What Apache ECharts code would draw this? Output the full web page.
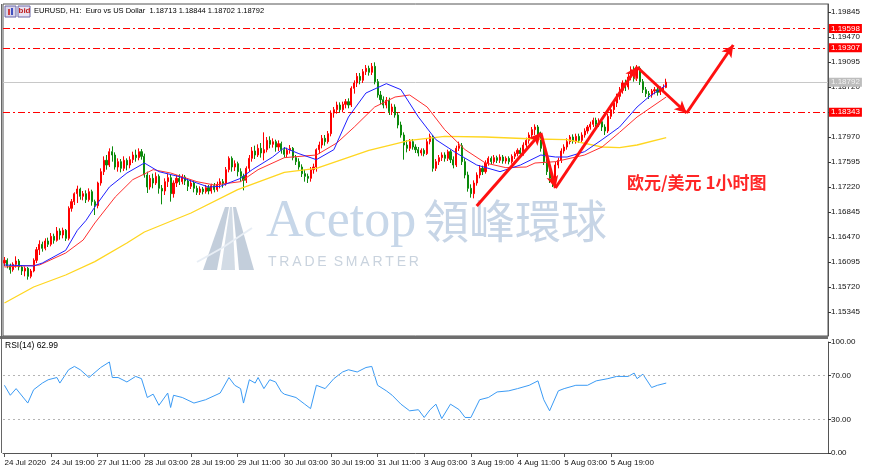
<!DOCTYPE html>
<html><head><meta charset="utf-8">
<script src="https://cdn.jsdelivr.net/npm/echarts@6/dist/echarts.min.js"></script>
<style>html,body{margin:0;padding:0;background:#fff}#c{width:870px;height:473px}</style>
</head><body><div id="c"></div>
<script>
// ---- data ----
const candles = [
[1.1608,1.1612,1.1603,1.1617],[1.1612,1.1604,1.1600,1.1615],[1.1604,1.1598,1.1592,1.1607],[1.1598,1.1606,1.1595,1.1609],
[1.1606,1.1611,1.1601,1.1618],[1.1611,1.1602,1.1597,1.1614],[1.1602,1.1596,1.1590,1.1605],[1.1596,1.1600,1.1588,1.1603],
[1.1600,1.1588,1.1583,1.1602],[1.1588,1.1596,1.1585,1.1599],[1.1596,1.1612,1.1594,1.1615],[1.1612,1.1628,1.1608,1.1632],
[1.1628,1.1636,1.1620,1.1642],[1.1636,1.1630,1.1625,1.1640],[1.1630,1.1641,1.1627,1.1645],[1.1641,1.1636,1.1632,1.1646],
[1.1636,1.1648,1.1633,1.1653],[1.1648,1.1642,1.1637,1.1652],[1.1642,1.1656,1.1640,1.1662],[1.1656,1.1650,1.1643,1.1660],
[1.1650,1.1657,1.1645,1.1661],[1.1657,1.1645,1.1641,1.1659],[1.1645,1.1690,1.1642,1.1693],[1.1690,1.1700,1.1685,1.1704],
[1.1700,1.1712,1.1695,1.1714],[1.1712,1.1719,1.1698,1.1724],[1.1719,1.1708,1.1703,1.1721],[1.1708,1.1712,1.1702,1.1716],
[1.1712,1.1703,1.1698,1.1717],[1.1703,1.1715,1.1700,1.1720],[1.1715,1.1700,1.1694,1.1718],[1.1700,1.1694,1.1680,1.1703],
[1.1694,1.1728,1.1690,1.1730],[1.1728,1.1745,1.1724,1.1750],[1.1745,1.1762,1.1740,1.1768],[1.1762,1.1755,1.1748,1.1770],
[1.1755,1.1775,1.1752,1.1780],[1.1775,1.1770,1.1760,1.1783],[1.1770,1.1752,1.1748,1.1774],[1.1752,1.1760,1.1745,1.1765],
[1.1760,1.1750,1.1744,1.1764],[1.1750,1.1762,1.1746,1.1768],[1.1762,1.1755,1.1747,1.1765],[1.1755,1.1763,1.1750,1.1768],
[1.1763,1.1770,1.1758,1.1775],[1.1770,1.1766,1.1760,1.1778],[1.1766,1.1775,1.1762,1.1780],[1.1775,1.1768,1.1763,1.1779],
[1.1768,1.1740,1.1736,1.1772],[1.1740,1.1722,1.1713,1.1745],[1.1722,1.1735,1.1718,1.1740],[1.1735,1.1728,1.1720,1.1742],
[1.1728,1.1738,1.1725,1.1744],[1.1738,1.1720,1.1712,1.1741],[1.1720,1.1716,1.1696,1.1725],[1.1716,1.1730,1.1710,1.1735],
[1.1730,1.1736,1.1722,1.1742],[1.1736,1.1712,1.1700,1.1740],[1.1712,1.1728,1.1706,1.1732],[1.1728,1.1735,1.1722,1.1740],
[1.1735,1.1730,1.1725,1.1741],[1.1730,1.1737,1.1726,1.1741],[1.1737,1.1731,1.1725,1.1740],[1.1731,1.1723,1.1716,1.1735],
[1.1723,1.1728,1.1719,1.1733],[1.1728,1.1720,1.1714,1.1731],[1.1720,1.1714,1.1710,1.1724],[1.1714,1.1719,1.1710,1.1723],
[1.1719,1.1715,1.1711,1.1722],[1.1715,1.1721,1.1712,1.1725],[1.1721,1.1716,1.1711,1.1725],[1.1716,1.1724,1.1712,1.1727],
[1.1724,1.1718,1.1714,1.1728],[1.1718,1.1726,1.1715,1.1730],[1.1726,1.1730,1.1720,1.1735],[1.1730,1.1727,1.1721,1.1734],
[1.1727,1.1748,1.1724,1.1752],[1.1748,1.1765,1.1744,1.1768],[1.1765,1.1752,1.1745,1.1768],[1.1752,1.1757,1.1746,1.1762],
[1.1757,1.1745,1.1738,1.1760],[1.1745,1.1738,1.1730,1.1750],[1.1738,1.1732,1.1717,1.1742],[1.1732,1.1750,1.1728,1.1753],
[1.1750,1.1765,1.1745,1.1770],[1.1765,1.1776,1.1760,1.1782],[1.1776,1.1770,1.1764,1.1784],[1.1770,1.1780,1.1767,1.1786],
[1.1780,1.1773,1.1766,1.1788],[1.1773,1.1778,1.1762,1.1804],[1.1778,1.1792,1.1774,1.1797],[1.1792,1.1786,1.1780,1.1798],
[1.1786,1.1790,1.1781,1.1795],[1.1790,1.1782,1.1775,1.1793],[1.1782,1.1787,1.1776,1.1792],[1.1787,1.1778,1.1772,1.1790],
[1.1778,1.1771,1.1766,1.1782],[1.1771,1.1777,1.1767,1.1781],[1.1777,1.1780,1.1772,1.1785],[1.1780,1.1766,1.1762,1.1782],
[1.1766,1.1760,1.1755,1.1770],[1.1760,1.1752,1.1748,1.1765],[1.1752,1.1742,1.1737,1.1756],[1.1742,1.1738,1.1730,1.1748],
[1.1738,1.1735,1.1728,1.1742],[1.1735,1.1748,1.1730,1.1752],[1.1748,1.1752,1.1742,1.1757],[1.1752,1.1778,1.1745,1.1780],
[1.1778,1.1785,1.1772,1.1790],[1.1785,1.1795,1.1780,1.1800],[1.1795,1.1790,1.1784,1.1800],[1.1790,1.1802,1.1787,1.1806],
[1.1802,1.1833,1.1798,1.1837],[1.1833,1.1838,1.1826,1.1842],[1.1838,1.1845,1.1832,1.1850],[1.1845,1.1838,1.1834,1.1849],
[1.1838,1.1846,1.1834,1.1850],[1.1846,1.1850,1.1840,1.1854],[1.1850,1.1845,1.1840,1.1855],[1.1845,1.1870,1.1842,1.1873],
[1.1870,1.1878,1.1862,1.1882],[1.1878,1.1888,1.1872,1.1893],[1.1888,1.1882,1.1876,1.1893],[1.1882,1.1895,1.1878,1.1899],
[1.1895,1.1900,1.1890,1.1905],[1.1900,1.1894,1.1889,1.1904],[1.1894,1.1903,1.1890,1.1908],[1.1903,1.1880,1.1876,1.1909],
[1.1880,1.1860,1.1856,1.1884],[1.1860,1.1853,1.1846,1.1866],[1.1853,1.1845,1.1840,1.1858],[1.1845,1.1852,1.1840,1.1857],
[1.1852,1.1835,1.1830,1.1856],[1.1835,1.1842,1.1830,1.1847],[1.1842,1.1830,1.1826,1.1846],[1.1830,1.1815,1.1810,1.1834],
[1.1815,1.1800,1.1796,1.1820],[1.1800,1.1785,1.1763,1.1804],[1.1785,1.1780,1.1774,1.1792],[1.1780,1.1790,1.1776,1.1794],
[1.1790,1.1782,1.1778,1.1794],[1.1782,1.1778,1.1773,1.1786],[1.1778,1.1773,1.1768,1.1782],[1.1773,1.1777,1.1769,1.1780],
[1.1777,1.1772,1.1768,1.1780],[1.1772,1.1790,1.1770,1.1794],[1.1790,1.1798,1.1786,1.1802],[1.1798,1.1750,1.1745,1.1800],
[1.1750,1.1760,1.1746,1.1764],[1.1760,1.1766,1.1755,1.1770],[1.1766,1.1770,1.1761,1.1774],[1.1770,1.1765,1.1760,1.1774],
[1.1765,1.1775,1.1761,1.1778],[1.1775,1.1763,1.1758,1.1778],[1.1763,1.1755,1.1750,1.1768],[1.1755,1.1780,1.1752,1.1784],
[1.1780,1.1784,1.1776,1.1790],[1.1784,1.1760,1.1755,1.1788],[1.1760,1.1740,1.1735,1.1765],[1.1740,1.1720,1.1715,1.1745],
[1.1720,1.1712,1.1706,1.1726],[1.1712,1.1728,1.1705,1.1732],[1.1728,1.1740,1.1724,1.1744],[1.1740,1.1750,1.1735,1.1755],
[1.1750,1.1745,1.1740,1.1754],[1.1745,1.1758,1.1742,1.1762],[1.1758,1.1765,1.1754,1.1768],[1.1765,1.1760,1.1756,1.1768],
[1.1760,1.1766,1.1757,1.1770],[1.1766,1.1762,1.1758,1.1769],[1.1762,1.1767,1.1758,1.1771],[1.1767,1.1761,1.1757,1.1770],
[1.1761,1.1765,1.1757,1.1768],[1.1765,1.1760,1.1756,1.1768],[1.1760,1.1768,1.1757,1.1771],[1.1768,1.1772,1.1764,1.1775],
[1.1772,1.1777,1.1768,1.1780],[1.1777,1.1772,1.1768,1.1781],[1.1772,1.1785,1.1769,1.1789],[1.1785,1.1792,1.1781,1.1796],
[1.1792,1.1800,1.1787,1.1804],[1.1800,1.1808,1.1795,1.1812],[1.1808,1.1812,1.1800,1.1816],[1.1812,1.1798,1.1793,1.1815],
[1.1798,1.1780,1.1775,1.1805],[1.1780,1.1760,1.1755,1.1785],[1.1760,1.1745,1.1740,1.1765],[1.1745,1.1735,1.1728,1.1750],
[1.1735,1.1730,1.1722,1.1740],[1.1730,1.1755,1.1726,1.1760],[1.1755,1.1762,1.1750,1.1766],[1.1762,1.1776,1.1758,1.1780],
[1.1776,1.1782,1.1772,1.1786],[1.1782,1.1790,1.1778,1.1795],[1.1790,1.1797,1.1786,1.1800],[1.1797,1.1791,1.1787,1.1801],
[1.1791,1.1798,1.1787,1.1802],[1.1798,1.1792,1.1788,1.1802],[1.1792,1.1800,1.1789,1.1804],[1.1800,1.1806,1.1796,1.1810],
[1.1806,1.1812,1.1802,1.1815],[1.1812,1.1816,1.1808,1.1820],[1.1816,1.1822,1.1812,1.1826],[1.1822,1.1816,1.1811,1.1826],
[1.1816,1.1820,1.1812,1.1825],[1.1820,1.1812,1.1806,1.1824],[1.1812,1.1806,1.1800,1.1816],[1.1806,1.1828,1.1803,1.1832],
[1.1828,1.1838,1.1824,1.1842],[1.1838,1.1848,1.1832,1.1852],[1.1848,1.1858,1.1842,1.1862],[1.1858,1.1867,1.1853,1.1872],
[1.1867,1.1878,1.1862,1.1882],[1.1878,1.1872,1.1866,1.1883],[1.1872,1.1887,1.1868,1.1892],[1.1887,1.1898,1.1882,1.1903],
[1.1898,1.1885,1.1880,1.1903],[1.1885,1.1900,1.1881,1.1905],[1.1900,1.1880,1.1875,1.1903],[1.1880,1.1868,1.1863,1.1884],
[1.1868,1.1862,1.1857,1.1872],[1.1862,1.1860,1.1854,1.1866],[1.1860,1.1866,1.1856,1.1869],[1.1866,1.1868,1.1861,1.1872],
[1.1868,1.1864,1.1859,1.1872],[1.1864,1.1869,1.1860,1.1873],[1.1869,1.18713,1.1865,1.1876],[1.18713,1.18792,1.18702,1.18844]
];
// moving averages: [bar index, price]
const maBlue = [[0,1.1605],[10,1.16035],[13,1.1608],[21,1.1627],[25,1.1657],[28,1.1672],[31,1.1692],[36,1.1722],[42,1.1743],
 [48,1.1758],[53,1.1745],[60,1.17375],[66,1.1728],[70,1.1722],[74,1.1723],[81,1.1735],[85,1.1748],[92,1.1767],[96,1.1781],
 [101,1.1772],[107,1.1763],[113,1.1778],[118,1.1827],[124,1.1863],[131,1.1877],[136,1.1868],[142,1.1827],[148,1.1793],
 [155,1.1773],[162,1.1755],[170,1.1745],[177,1.1755],[184,1.1770],[189,1.1767],[193,1.1767],[199,1.1775],[205,1.1793],
 [211,1.1812],[217,1.1842],[221,1.1857],[227,1.1875]];
const maRed = [[0,1.1602],[12,1.1605],[21,1.1623],[27,1.16425],[31,1.1668],[38,1.1707],[44,1.1733],[51,1.1748],[57,1.1743],
 [66,1.1730],[72,1.1725],[81,1.1730],[87,1.1748],[96,1.1766],[107,1.1770],[114,1.1788],[120,1.1812],[127,1.1842],[134,1.1857],
 [139,1.1860],[145,1.1842],[151,1.1808],[158,1.1778],[165,1.1758],[172,1.1751],[179,1.1752],[182,1.1758],[189,1.1760],
 [199,1.1770],[205,1.1782],[211,1.1804],[217,1.1827],[227,1.1857]];
const maYellow = [[0,1.1548],[10,1.1572],[21,1.1590],[31,1.1610],[42,1.1638],[48,1.16545],[64,1.1683],[80,1.1718],[96,1.1744],
 [107,1.1750],[125,1.1777],[139,1.1792],[151,1.1798],[165,1.1797],[182,1.1794],[193,1.1793],[205,1.1782],[211,1.1781],
 [217,1.1785],[227,1.1796]];
const rsiPts = [[0,61],[2,52],[4,58],[8,45],[10,57],[13,63],[15,66],[18,68],[19,63],[22,75],[24,78],[26,75],[29,68],[33,77],
 [36,82],[37,68],[39,68],[42,64],[45,69],[47,67],[49,50],[51,53],[53,43],[56,54],[57,41],[58,52],[61,50],[65,45],[69,48],
 [74,54],[77,68],[79,61],[81,58],[82,45],[84,66],[86,63],[87,68],[89,58],[91,66],[93,64],[95,55],[96,53],[100,50],[103,44],
 [105,40],[107,61],[110,58],[113,67],[116,73],[118,75],[121,73],[124,77],[126,78],[128,61],[131,56],[133,52],[136,44],
 [139,38],[142,39],[144,32],[146,39],[148,44],[150,31],[153,44],[156,39],[158,32],[160,32],[163,48],[166,50],[169,55],
 [173,56],[176,58],[180,61],[183,65],[185,48],[187,38],[190,56],[192,58],[196,61],[200,61],[203,65],[207,67],[210,69],
 [214,69],[216,72],[217,67],[219,71],[222,59],[224,61],[227,63]];
const priceTicks = [1.19845,1.19470,1.19095,1.18720,1.18345,1.17970,1.17595,1.17220,1.16845,1.16470,1.16095,1.15720,1.15345];
const rsiTicks = [0,30,70,100];
const rsiLevels = [70,30];
const xTicks = [[0,'24 Jul 2020'],[16,'24 Jul 19:00'],[32,'27 Jul 11:00'],[48,'28 Jul 03:00'],[64,'28 Jul 19:00'],
 [80,'29 Jul 11:00'],[96,'30 Jul 03:00'],[112,'30 Jul 19:00'],[128,'31 Jul 11:00'],[144,'3 Aug 03:00'],[160,'3 Aug 19:00'],
 [176,'4 Aug 11:00'],[192,'5 Aug 03:00'],[208,'5 Aug 19:00']];
const levels = [1.19598,1.19307,1.18343];
const bid = 1.18792;
const arrows = [[[162,1.16935],[184,1.1803]],[[184,1.1803],[189,1.17205]],[[189,1.17205],[217,1.1902]],
 [[217,1.1902],[234,1.1833]],[[234,1.1833],[250,1.1935]]];
const SLOTS = 283;
const header = 'EURUSD, H1:  Euro vs US Dollar  1.18713 1.18844 1.18702 1.18792';
const rsiTitle = 'RSI(14) 62.99';

// ---- chart ----
const FONT = '"Liberation Sans","DejaVu Sans",sans-serif';
const cats = Array.from({length: SLOTS}, (_, i) => String(i));
const tickMap = new Map(xTicks);
const isTick = (i) => tickMap.has(i);
const chart = echarts.init(document.getElementById('c'));

const levelLines = levels.map(v => ({yAxis: v,
  lineStyle: {color: '#ff0000', width: 1, type: [7, 3, 2, 3]},
  label: {show: true, position: 'end', distance: 1, formatter: v.toFixed(5), backgroundColor: '#ff0000', color: '#ffffff',
          padding: [1, 2, 0, 2], fontSize: 8, fontFamily: FONT}}));
levelLines.push({yAxis: bid,
  lineStyle: {color: '#c8c8c8', width: 1, type: 'solid'},
  label: {show: true, position: 'end', distance: 1, formatter: bid.toFixed(5), backgroundColor: '#bdbdbd', color: '#f2f2f2',
          padding: [1, 2, 0, 2], fontSize: 8, fontFamily: FONT}});

chart.setOption({
  animation: false,
  backgroundColor: '#ffffff',
  grid: [
    {left: 3, right: 42, top: 4, height: 332, show: true, borderColor: '#555', borderWidth: 1},
    {left: 3, right: 42, top: 342, height: 111, show: false}
  ],
  xAxis: [
    {type: 'category', gridIndex: 0, data: cats, axisLine: {show: false}, axisTick: {show: false}, axisLabel: {show: false}, splitLine: {show: false}},
    {type: 'category', gridIndex: 1, data: cats,
     axisLine: {show: true, lineStyle: {color: '#555'}},
     axisTick: {show: true, interval: (i) => isTick(i), alignWithLabel: true, length: 4, lineStyle: {color: '#555'}},
     axisLabel: {show: true, interval: (i) => isTick(i), formatter: (v) => tickMap.get(Number(v)) || '', align: 'left',
                 margin: 6, fontSize: 8, color: '#111', fontFamily: FONT},
     splitLine: {show: false}}
  ],
  yAxis: [
    {type: 'value', gridIndex: 0, position: 'right', min: 1.14985, max: 1.19965, splitLine: {show: false},
     axisLine: {show: true, lineStyle: {color: '#555'}},
     axisTick: {show: true, length: 3, customValues: priceTicks, lineStyle: {color: '#333'}},
     axisLabel: {customValues: priceTicks, formatter: (v) => v.toFixed(5), fontSize: 8, margin: 3, color: '#111', fontFamily: FONT}},
    {type: 'value', gridIndex: 1, position: 'right', min: 0, max: 100, splitLine: {show: false},
     axisLine: {show: true, lineStyle: {color: '#555'}},
     axisTick: {show: true, length: 3, customValues: rsiTicks, lineStyle: {color: '#333'}},
     axisLabel: {customValues: rsiTicks, formatter: (v) => v.toFixed(2), fontSize: 8, margin: 3, color: '#111', fontFamily: FONT}}
  ],
  series: [
    {type: 'line', xAxisIndex: 0, yAxisIndex: 0, data: [], z: 1,
     markLine: {silent: true, symbol: 'none', precision: 5, z: 1, data: levelLines}},
    {type: 'candlestick', xAxisIndex: 0, yAxisIndex: 0, data: candles, barWidth: 1.6, z: 2,
     itemStyle: {color: '#ff0000', color0: '#0b8a0b', borderColor: '#ff0000', borderColor0: '#0b8a0b', borderWidth: 1}},
    {type: 'line', xAxisIndex: 0, yAxisIndex: 0, data: maYellow, showSymbol: false, z: 3, lineStyle: {color: '#ffd620', width: 1.3}},
    {type: 'line', xAxisIndex: 0, yAxisIndex: 0, data: maRed, showSymbol: false, z: 3, lineStyle: {color: '#ff3030', width: 1}},
    {type: 'line', xAxisIndex: 0, yAxisIndex: 0, data: maBlue, showSymbol: false, z: 3, lineStyle: {color: '#2020ff', width: 1}},
    {type: 'line', xAxisIndex: 0, yAxisIndex: 0, data: [], z: 5,
     markLine: {silent: true, symbol: ['none', 'arrow'], symbolSize: [9, 12], precision: 5, z: 5,
       lineStyle: {color: '#ff1010', width: 3, type: 'solid'}, label: {show: false},
       data: arrows.map(a => [{coord: a[0]}, {coord: a[1]}])}},
    {type: 'line', xAxisIndex: 1, yAxisIndex: 1, data: rsiPts, showSymbol: false, z: 3,
     lineStyle: {color: '#3b9bf5', width: 1},
     markLine: {silent: true, symbol: 'none', label: {show: false},
       lineStyle: {color: '#b4b4b4', width: 1, type: [2, 3]},
       data: rsiLevels.map(v => ({yAxis: v}))}}
  ],
  graphic: [
    // watermark
    {type: 'polygon', z: 0, shape: {points: [[203,270],[217,270],[229,207],[225,207]]}, style: {fill: '#c3cedb'}},
    {type: 'polygon', z: 0, shape: {points: [[221,270],[235,270],[232,207],[230,207]]}, style: {fill: '#d2dbe5'}},
    {type: 'polygon', z: 0, shape: {points: [[239,270],[254,270],[236,207],[233,207]]}, style: {fill: '#c3cedb'}},
    {type: 'polyline', z: 0, shape: {points: [[197,262],[222,248],[252,228]]}, style: {stroke: '#e8eef5', lineWidth: 2, fill: null}},
    {type: 'text', z: 0, left: 266, top: 196, style: {text: 'Acetop', font: '52px "Liberation Serif","DejaVu Serif",serif', fill: '#c7d7e9'}},
    {type: 'text', z: 0, left: 423, top: 198, style: {text: '領峰環球', font: '46px "Noto Sans CJK TC",sans-serif', fill: '#c7d5e6'}},
    {type: 'text', z: 0, left: 268, top: 255, style: {text: 'T\u2009R\u2009A\u2009D\u2009E\u2002S\u2009M\u2009A\u2009R\u2009T\u2009E\u2009R',
      font: '14px "Liberation Sans",sans-serif', fill: '#c9d3de'}},
    // separator between panels and left frame
    {type: 'rect', z: 10, shape: {x: 0, y: 336, width: 828, height: 3}, style: {fill: '#6e6e6e'}},
    {type: 'rect', z: 10, shape: {x: 1, y: 4, width: 1, height: 449}, style: {fill: '#666'}},
    // header icons
    {type: 'rect', z: 10, shape: {x: 5, y: 6, width: 11, height: 11}, style: {fill: '#d9d4ea', stroke: '#6b68a8', lineWidth: 1}},
    {type: 'rect', z: 10, shape: {x: 8, y: 9, width: 2, height: 6}, style: {fill: '#d04040'}},
    {type: 'rect', z: 10, shape: {x: 11, y: 8, width: 2, height: 7}, style: {fill: '#4050c0'}},
    {type: 'rect', z: 10, shape: {x: 18, y: 6, width: 12, height: 11}, style: {fill: '#e8e2f2', stroke: '#6b68a8', lineWidth: 1}},
    {type: 'text', z: 10, left: 18.5, top: 6.5, style: {text: 'bid', font: 'bold 8px "Liberation Sans",sans-serif', fill: '#c02020'}},
    // texts
    {type: 'text', z: 10, left: 34, top: 7, style: {text: header, font: '7.5px "Liberation Sans","DejaVu Sans",sans-serif', fill: '#000'}},
    {type: 'text', z: 10, left: 5, top: 341, style: {text: rsiTitle, font: '8.5px "Liberation Sans","DejaVu Sans",sans-serif', fill: '#000'}},
    {type: 'text', z: 10, left: 627, top: 174, style: {text: '欧元/美元 1小时图', font: 'bold 17px "Noto Sans CJK SC",sans-serif', fill: '#ff2626'}}
  ]
});
</script></body></html>
